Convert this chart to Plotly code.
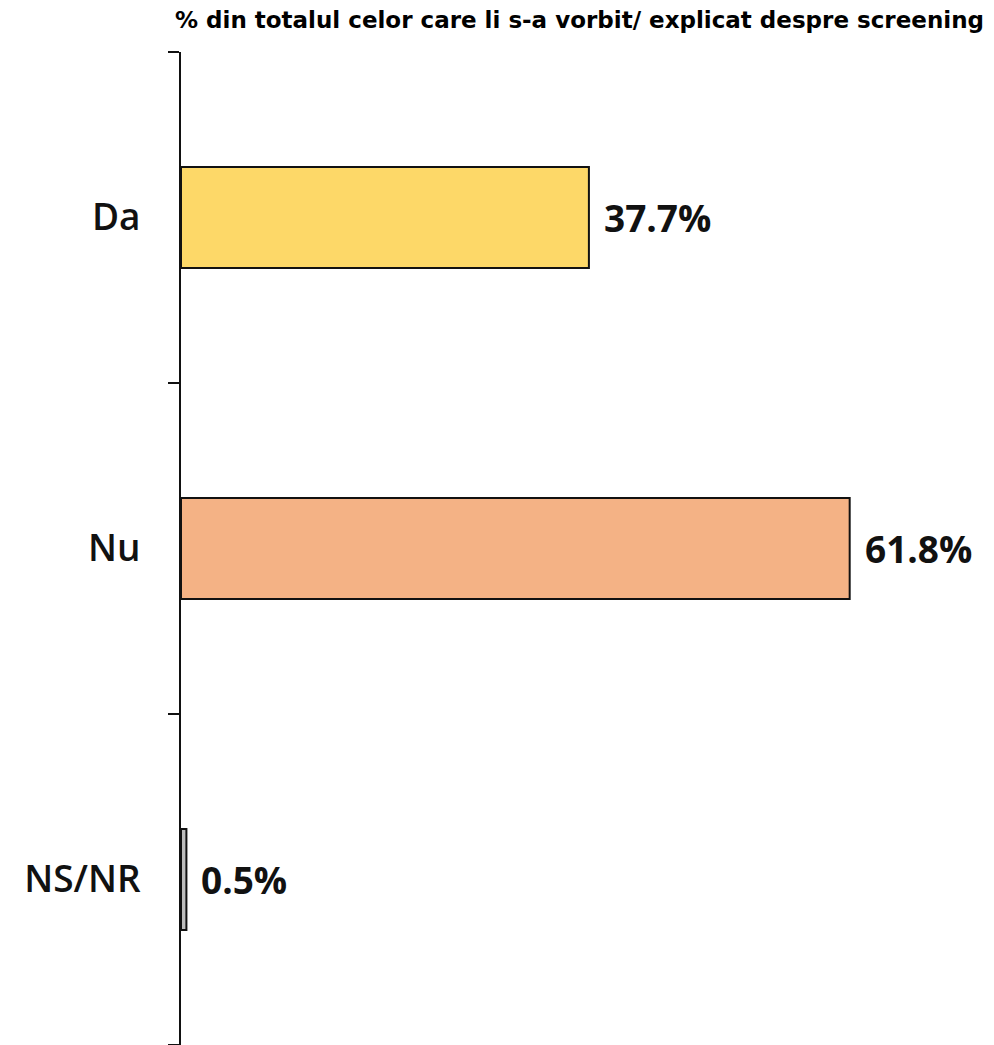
import plotly.graph_objects as go

categories = ["Da", "Nu", "NS/NR"]
values = [37.7, 61.8, 0.5]
value_labels = ["37.7%", "61.8%", "0.5%"]
colors = ["#FDD868", "#F4B285", "#BDBDBD"]
title_text = "% din totalul celor care li s-a vorbit/ explicat despre screening"

ypos = list(range(len(categories)))

fig = go.Figure()
fig.add_trace(go.Bar(
    x=values, y=ypos, orientation="h", width=0.305,
    marker=dict(color=colors, line=dict(color="#111111", width=2)),
    hoverinfo="skip", showlegend=False,
))

for v, yy, lab in zip(values, ypos, value_labels):
    fig.add_annotation(x=v, y=yy, xref="x", yref="y", text=lab, showarrow=False,
                       xanchor="left", yanchor="middle", xshift=13,
                       font=dict(family="Open Sans", size=37, color="#111111", weight=700))

fig.add_annotation(x=1, y=1, xref="paper", yref="paper", yshift=32, xshift=-8,
                   text=title_text, showarrow=False, xanchor="right", yanchor="middle",
                   font=dict(family="DejaVu Sans", size=23, color="#000000", weight=700))

fig.update_layout(
    width=986, height=1037,
    margin=dict(l=173, r=0, t=44, b=0, autoexpand=False),
    plot_bgcolor="white", paper_bgcolor="white",
    xaxis=dict(range=[0, 813 / 10.82], visible=False, fixedrange=True, automargin=False),
    yaxis=dict(
        range=[len(categories) - 0.5, -0.5], tickmode="array", tickvals=ypos, ticktext=categories,
        ticks="", showline=True, linecolor="#111111", linewidth=2, showgrid=False, zeroline=False,
        ticklabelstandoff=31, automargin=False,
        tickfont=dict(family="Open Sans", size=37, color="#111111", weight=600),
        minor=dict(ticks="outside", tickmode="linear", tick0=-0.5, dtick=1, ticklen=11,
                   tickwidth=2, tickcolor="#111111", showgrid=False),
    ),
)

fig.write_html("out.html")
